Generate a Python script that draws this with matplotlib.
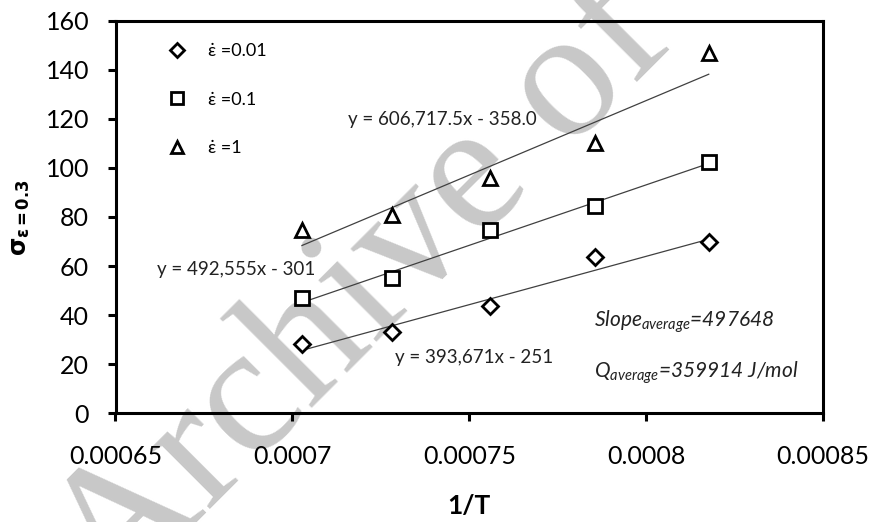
import matplotlib
matplotlib.use("Agg")
import matplotlib.pyplot as plt

# ---- data ----
inv_T = [0.0007027, 0.0007283, 0.0007559, 0.0007855, 0.0008177]
stress_001 = [28.2, 33.3, 43.8, 63.5, 69.6]
stress_01 = [46.8, 55.2, 74.5, 84.5, 102.2]
stress_1 = [74.6, 80.7, 95.7, 110.2, 146.6]
series_labels = ["\u03b5\u0307 =0.01", "\u03b5\u0307 =0.1", "\u03b5\u0307 =1"]
fit_slopes = [393671, 492555, 606717.5]
fit_intercepts = [-251, -301, -358.0]
fit_texts = ["y = 393,671x - 251", "y = 492,555x - 301", "y = 606,717.5x - 358.0"]
xticks = [0.00065, 0.0007, 0.00075, 0.0008, 0.00085]
xtick_labels = ["0.00065", "0.0007", "0.00075", "0.0008", "0.00085"]
yticks = [0, 20, 40, 60, 80, 100, 120, 140, 160]

plt.rcParams['font.family'] = ['Lato', 'DejaVu Sans']
plt.rcParams['mathtext.fontset'] = 'custom'
plt.rcParams['mathtext.rm'] = 'Lato'
plt.rcParams['mathtext.it'] = 'Lato:italic'
plt.rcParams['mathtext.bf'] = 'DejaVu Sans:bold'

fig = plt.figure(figsize=(8.71, 5.22), dpi=100)
ax = fig.add_axes([115.5 / 871, 1 - 413.3 / 522, (823 - 115.5) / 871, (413.3 - 20.5) / 522])
ax.patch.set_alpha(0)

# watermark
fig.text(113.8 / 871, (522 - 606) / 522, "Archive of SID", rotation=45,
         rotation_mode='anchor', ha='left', va='baseline', fontsize=133,
         family='Liberation Serif', color='#c8c8c8', zorder=-5)

markers = ['D', 's', '^']
msizes = [8.2, 10.5, 10.5]
all_series = [stress_001, stress_01, stress_1]
handles = []
for ys, m, ms, lab in zip(all_series, markers, msizes, series_labels):
    h, = ax.plot(inv_T, ys, linestyle='none', marker=m, markersize=ms,
                 markerfacecolor='white', markeredgecolor='black',
                 markeredgewidth=2, label=lab, zorder=4)
    handles.append(h)

for mslope, b in zip(fit_slopes, fit_intercepts):
    xs = [min(inv_T), max(inv_T)]
    ax.plot(xs, [mslope * v + b for v in xs], color='#404040', lw=0.9, zorder=3)

ax.set_xlim(0.00065, 0.00085)
ax.set_ylim(0, 160)
ax.set_xticks(xticks)
ax.set_xticklabels(xtick_labels)
ax.set_yticks(yticks)
for s in ax.spines.values():
    s.set_linewidth(2.2)
ax.tick_params(axis='both', direction='out', length=6, width=2.2, labelsize=18,
               colors='black')
ax.tick_params(axis='y', pad=13)
ax.tick_params(axis='x', pad=17)

ax.set_xlabel("1/T", fontsize=19, fontweight='bold')
ax.xaxis.set_label_coords(0.5, -0.205)
ax.set_ylabel(r"$\mathbf{\sigma}_{\mathbf{\epsilon=0.3}}$", fontsize=17)
ax.yaxis.set_label_coords(-0.118, 0.497)

# fit equations
fit_pos = [(0.000729, 22.9), (0.0006617, 58.7), (0.0007158, 119.7)]
for (tx, ty), t in zip(fit_pos, fit_texts):
    ax.text(tx, ty, t, fontsize=13.5, ha='left', va='center', color='#222222')

ax.text(0.0007854, 37.1, r"$Slope_{average}$=497648", fontsize=15, style='italic',
        ha='left', va='center', color='#222222')
ax.text(0.0007854, 16.4, r"$Q_{average}$=359914 J/mol", fontsize=15, style='italic',
        ha='left', va='center', color='#222222')

ax.legend(handles=handles, loc='upper left', bbox_to_anchor=(0.074, 0.942),
          frameon=False, fontsize=13, markerscale=0.88, labelspacing=1.8,
          handlelength=1.0, handletextpad=1.2, borderpad=0, borderaxespad=0,
          numpoints=1)

fig.savefig("out.png", dpi=100)
